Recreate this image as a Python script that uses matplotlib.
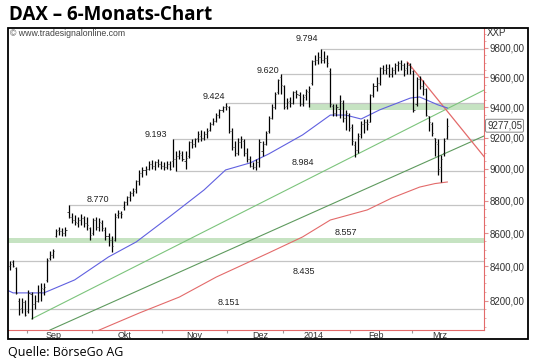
import numpy as np
import matplotlib.pyplot as plt
from matplotlib.patches import Rectangle
from matplotlib.ticker import FixedLocator, NullFormatter
import matplotlib.transforms as mtransforms

# DAX Tageskurse (Handelstage ab 23.08.2013 bis 18.03.2014)
opens = [8400, 8425, 8390, 8200, 8160, 8190, 8140, 8240, 8180, 8200, 8250, 8270, 8320, 8450, 8470,
         8580, 8620, 8610, 8600, 8730, 8700, 8680, 8660, 8680, 8690, 8660, 8630, 8600, 8680, 8640,
         8660, 8620, 8580, 8560, 8560, 8710, 8720, 8760, 8790, 8820, 8850, 8870, 8920, 8970, 8990,
         9000, 9030, 9020, 9040, 9030, 9020, 9010, 9030, 9050, 9060, 9080, 9090, 9050, 9080, 9170,
         9160, 9200, 9210, 9200, 9220, 9250, 9290, 9310, 9350, 9380, 9400, 9400, 9240, 9140, 9100,
         9170, 9180, 9100, 9060, 9020, 9010, 9040, 9110, 9160, 9240, 9330, 9400, 9500, 9600, 9540,
         9410, 9440, 9430, 9500, 9480, 9420, 9480, 9500, 9560, 9710, 9720, 9740, 9720, 9730, 9640,
         9410, 9360, 9390, 9430, 9330, 9350, 9270, 9150, 9120, 9220, 9290, 9300, 9300, 9480, 9540,
         9560, 9660, 9650, 9660, 9620, 9650, 9680, 9700, 9680, 9660, 9680, 9640, 9420, 9590, 9540,
         9520, 9340, 9290, 9200, 9160, 9010, 9100, 9200]
highs = [8435, 8437, 8395, 8215, 8215, 8205, 8262, 8250, 8235, 8290, 8300, 8300, 8450, 8490, 8505,
         8625, 8640, 8630, 8640, 8770, 8720, 8710, 8700, 8715, 8705, 8700, 8640, 8690, 8700, 8690,
         8680, 8640, 8600, 8580, 8720, 8740, 8735, 8800, 8830, 8860, 8880, 8930, 8990, 9010, 9020,
         9050, 9055, 9050, 9060, 9050, 9040, 9050, 9050, 9193, 9110, 9120, 9110, 9110, 9180, 9190,
         9200, 9240, 9250, 9240, 9260, 9300, 9330, 9360, 9390, 9410, 9424, 9410, 9260, 9180, 9200,
         9210, 9190, 9130, 9080, 9045, 9060, 9190, 9180, 9240, 9340, 9420, 9500, 9590, 9620, 9550,
         9460, 9470, 9510, 9515, 9500, 9490, 9520, 9540, 9720, 9750, 9770, 9794, 9780, 9750, 9660,
         9420, 9420, 9480, 9450, 9380, 9360, 9290, 9180, 9230, 9310, 9320, 9320, 9490, 9560, 9600,
         9670, 9680, 9690, 9690, 9670, 9700, 9710, 9720, 9700, 9704, 9700, 9650, 9600, 9610, 9580,
         9530, 9340, 9300, 9200, 9190, 9090, 9200, 9330]
lows = [8380, 8395, 8240, 8120, 8130, 8110, 8130, 8095, 8150, 8190, 8200, 8230, 8310, 8440, 8450,
        8575, 8590, 8580, 8585, 8690, 8660, 8650, 8640, 8650, 8640, 8620, 8560, 8590, 8620, 8610,
        8610, 8560, 8520, 8486, 8550, 8690, 8690, 8740, 8775, 8800, 8830, 8850, 8900, 8950, 8960,
        8990, 9000, 8990, 9010, 9000, 8990, 8995, 8990, 9010, 8984, 9060, 9050, 8995, 9070, 9130,
        9140, 9170, 9180, 9185, 9200, 9240, 9280, 9300, 9330, 9370, 9380, 9230, 9120, 9080, 9090,
        9130, 9080, 9040, 9010, 8995, 8990, 9010, 9080, 9150, 9230, 9320, 9390, 9490, 9490, 9390,
        9390, 9400, 9420, 9460, 9410, 9410, 9450, 9400, 9550, 9680, 9690, 9700, 9700, 9670, 9400,
        9340, 9340, 9330, 9300, 9250, 9240, 9150, 9073, 9100, 9200, 9230, 9250, 9300, 9470, 9510,
        9550, 9620, 9620, 9600, 9600, 9620, 9640, 9650, 9610, 9620, 9620, 9370, 9410, 9520, 9480,
        9340, 9240, 9210, 9080, 8960, 8914, 9080, 9190]
closes = [8416, 8400, 8245, 8150, 8195, 8120, 8245, 8180, 8200, 8250, 8275, 8280, 8440, 8470, 8495,
          8610, 8615, 8600, 8620, 8700, 8680, 8670, 8680, 8690, 8660, 8650, 8590, 8680, 8640, 8670,
          8630, 8580, 8560, 8520, 8700, 8720, 8715, 8790, 8820, 8850, 8860, 8920, 8970, 8990, 9000,
          9030, 9020, 9040, 9030, 9020, 9010, 9030, 9000, 9060, 9080, 9100, 9060, 9070, 9170, 9160,
          9190, 9220, 9200, 9220, 9240, 9290, 9310, 9350, 9380, 9400, 9405, 9240, 9140, 9100, 9170,
          9190, 9100, 9060, 9020, 9010, 9040, 9170, 9160, 9230, 9330, 9400, 9490, 9580, 9550, 9400,
          9435, 9430, 9500, 9490, 9420, 9470, 9510, 9530, 9710, 9720, 9740, 9720, 9730, 9700, 9420,
          9360, 9400, 9440, 9330, 9360, 9260, 9180, 9120, 9210, 9290, 9300, 9285, 9480, 9540, 9560,
          9660, 9650, 9660, 9620, 9650, 9680, 9700, 9680, 9650, 9680, 9660, 9380, 9590, 9540, 9520,
          9350, 9300, 9230, 9170, 9000, 9060, 9180, 9277.05]

# Gleitende Durchschnitte
ma_blue_idx = [-1, 1, 11, 21, 32, 41, 52, 63, 70, 78, 84, 95, 104, 109, 114, 120, 130, 133, 139, 142]
ma_blue_val = [8262, 8245, 8245, 8321, 8457, 8547, 8703, 8866, 8992, 9037, 9094, 9217, 9347, 9347,
               9321, 9381, 9460, 9467, 9414, 9394]
ma_red_idx = [24, 29, 42, 55, 67, 84, 95, 104, 116, 124, 133, 138, 142]
ma_red_val = [7990, 8032, 8129, 8221, 8338, 8481, 8577, 8680, 8742, 8816, 8884, 8906, 8916]

# Trendlinien
trend_up1_idx = [7, 154]
trend_up1_val = [8095, 9514]
trend_up2_idx = [13, 154]
trend_up2_val = [8032, 9211]
trend_down_idx = [129, 154]
trend_down_val = [9704, 9075]

# Unterstuetzungen / Widerstaende
levels = [9794, 9620, 9424, 9193, 8984, 8770, 8435, 8151]
level_start = [101, 88, 70, 53, 54, 19, 0, 0]
zone_low = [8540, 9381]
zone_high = [8568, 9430]
zone_start = [-1, 97]

yticks = [8200, 8400, 8600, 8800, 9000, 9200, 9400, 9600, 9800]
month_start = [6, 27, 50, 71, 89, 111, 131]
month_labels = ['Sep', 'Okt', 'Nov', 'Dez', '2014', 'Feb', 'Mrz']
month_label_pos = [14.3, 37.3, 59.7, 81.2, 98.7, 118.8, 139.6]
last_price = 9277.05

plt.rcParams['font.family'] = ['Liberation Sans', 'DejaVu Sans']

fig = plt.figure(figsize=(5.4, 3.64), dpi=100)
ax = fig.add_axes([8/540, 1-330/364, 476/540, 302/364])
ax.set_yscale('log')
ax.set_ylim(8032, 9939)
ax.set_xlim(-0.65, 153.9)

red = '#e36a6a'
# Zonen
for lo, hi, st in zip(zone_low, zone_high, zone_start):
    ax.fill_between([st, 160], lo, hi, color='#c6e3c2', lw=0, zorder=1)
# Linien
for lv, st in zip(levels, level_start):
    ax.plot([st, 160], [lv, lv], color='#c4c4c4', lw=0.9, zorder=2)

ax.plot(trend_up1_idx, trend_up1_val, color='#7cc47c', lw=0.8, zorder=3)
ax.plot(trend_up2_idx, trend_up2_val, color='#5e9a5e', lw=0.8, zorder=3)
ax.plot(trend_down_idx, trend_down_val, color=red, lw=0.9, zorder=3)
ax.plot(ma_blue_idx, ma_blue_val, color='#6060e0', lw=0.8, zorder=3)
ax.plot(ma_red_idx, ma_red_val, color=red, lw=0.8, zorder=3)

# OHLC-Balken
idx = np.arange(len(closes))
ax.vlines(idx, lows, highs, color='black', lw=0.9, zorder=4)
ax.hlines(opens, idx-0.35, idx, color='#333333', lw=0.6, zorder=4)
ax.hlines(closes, idx, idx+0.35, color='#333333', lw=0.6, zorder=4)

# Beschriftungen der Marken
lab_x = [96.4, 83.8, 66.2, 47.4, 95.1, 28.6, 95.5, 71.1]
lab_dy = [10, 3.5, 6.5, 4.6, 9, 6, -10.5, 7]
for lv, lx, dy in zip(levels, lab_x, lab_dy):
    ax.annotate(f'{lv:,}'.replace(',', '.'), xy=(lx, lv), xytext=(0, dy*0.72),
                textcoords='offset points', ha='center', va='center', fontsize=6.5, color='#222222')
ax.annotate('8.557', xy=(109.1, 8554), xytext=(0, 8*0.72), textcoords='offset points',
            ha='center', va='center', fontsize=6.5, color='#222222')

# Achsen
for s in ['left', 'top']:
    ax.spines[s].set_visible(False)
ax.spines['right'].set_color(red)
ax.spines['bottom'].set_color(red)
ax.spines['right'].set_linewidth(0.8)
ax.spines['bottom'].set_linewidth(0.8)
ax.yaxis.tick_right()
ax.yaxis.set_major_locator(FixedLocator(yticks))
ax.yaxis.set_minor_locator(FixedLocator(np.arange(8050, 9950, 50)))
ax.yaxis.set_minor_formatter(NullFormatter())
ax.set_yticklabels([f'{v},00' for v in yticks])
ax.tick_params(axis='y', which='major', length=3, color='#e09090', labelsize=7, pad=1, labelcolor='#333333')
ax.tick_params(axis='y', which='minor', length=1.5, color='#e0a0a0')

ax.set_xticks([m - 0.5 for m in month_start])
ax.set_xticklabels([])
ax.set_xticks(month_label_pos, minor=True)
ax.set_xticklabels(month_labels, minor=True)
ax.tick_params(axis='x', which='major', length=2, color='#999999')
ax.tick_params(axis='x', which='minor', length=0, labelsize=6.5, pad=1, labelcolor='#333333')

# Letzter Kurs
trans = mtransforms.blended_transform_factory(ax.transAxes, ax.transData)
ax.text(479/476, last_price, f'{last_price:.2f}'.replace('.', ','), transform=trans,
        fontsize=7, va='center', ha='left', color='#333333', clip_on=False,
        bbox=dict(boxstyle='round,pad=0.15', fc='white', ec='#888888', lw=0.7))

# Rahmen und Texte
fig.patches.append(Rectangle((8/540, 1-339/364), 520/540, 311/364, transform=fig.transFigure,
                             fill=False, ec='black', lw=1.3))
fig.text(487/540, 1-33/364, 'XXP', fontsize=7, va='center', ha='left', color='#333333')
fig.text(10/540, 1-33/364, '\u00a9 www.tradesignalonline.com', fontsize=6.3, va='center', ha='left',
         color='#444444')
fig.text(9/540, 1-14.5/364, 'DAX \u2013 6-Monats-Chart', fontsize=13.5, fontweight='bold',
         family=['Open Sans', 'DejaVu Sans'], va='center', ha='left')
fig.text(8/540, 1-352/364, 'Quelle: B\u00f6rseGo AG', fontsize=9,
         family=['Open Sans', 'DejaVu Sans'], va='center', ha='left')

fig.savefig('out.png', dpi=100)
